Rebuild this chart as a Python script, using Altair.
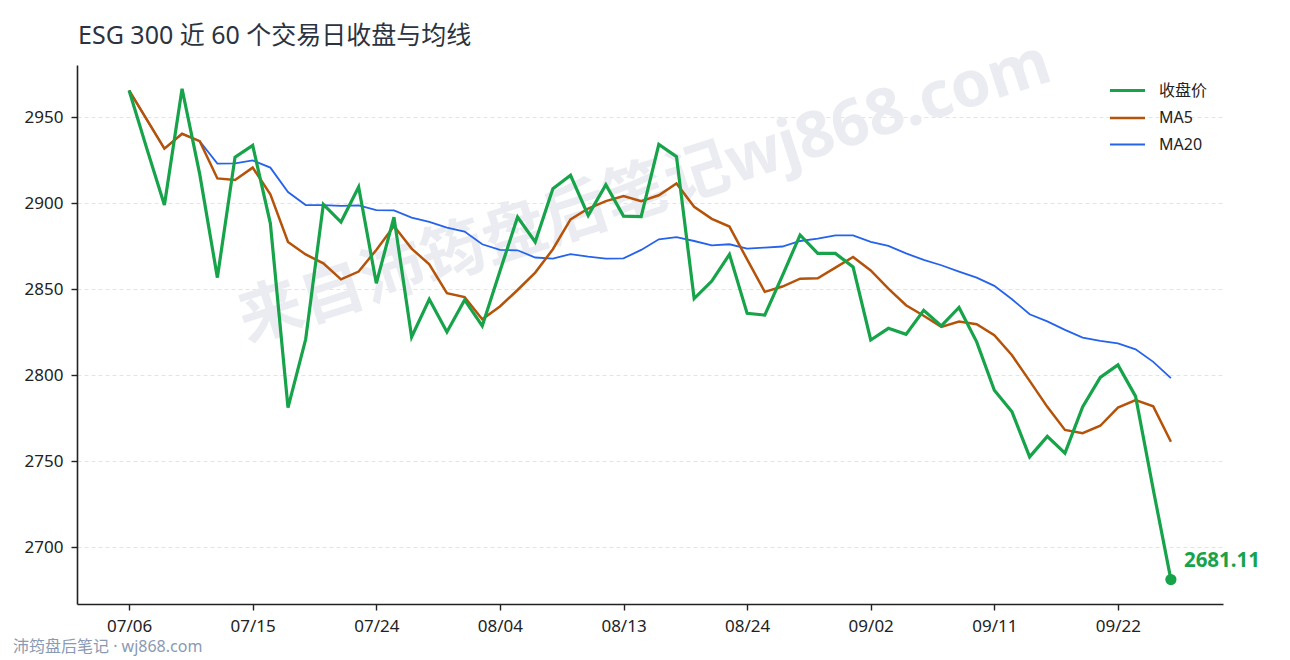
import pandas as pd
import altair as alt

# 收盘价与均线
close = [2965.7, 2932.0, 2899.0, 2966.7, 2917.0, 2856.8, 2926.9, 2933.7, 2888.4, 2781.2,
         2820.9, 2899.4, 2889.1, 2909.5, 2853.5, 2892.0, 2822.3, 2844.2, 2825.2, 2843.8,
         2828.7, 2860.5, 2892.0, 2877.5, 2908.5, 2916.3, 2893.0, 2910.9, 2892.6, 2892.3,
         2934.3, 2927.2, 2844.6, 2854.8, 2870.3, 2836.0, 2835.0, 2858.0, 2881.6, 2870.9,
         2870.9, 2863.0, 2820.5, 2827.3, 2823.8, 2837.8, 2828.7, 2839.4, 2819.4, 2791.3,
         2778.7, 2752.5, 2764.4, 2754.7, 2781.6, 2798.7, 2806.0, 2787.7, 2733.5, 2681.11]

ma5 = [2965.7, 2948.8, 2931.8, 2940.5, 2936.2, 2914.5, 2913.6, 2920.8, 2905.2, 2877.5,
       2870.3, 2865.1, 2855.8, 2860.3, 2872.9, 2886.8, 2873.7, 2864.5, 2847.7, 2845.5,
       2832.6, 2840.0, 2849.6, 2859.7, 2873.3, 2890.7, 2897.0, 2901.3, 2904.3, 2901.3,
       2904.7, 2911.6, 2898.0, 2891.0, 2886.5, 2867.4, 2848.5, 2851.6, 2856.2, 2856.4,
       2862.6, 2868.8, 2861.0, 2850.4, 2840.7, 2834.6, 2828.1, 2831.3, 2829.7, 2823.3,
       2811.6, 2796.7, 2781.6, 2768.2, 2766.3, 2770.6, 2781.2, 2785.5, 2781.9, 2761.3]

ma20 = [2965.7, 2948.8, 2931.8, 2940.5, 2936.2, 2923.1, 2923.3, 2925.0, 2920.8, 2906.6,
        2899.0, 2899.0, 2898.5, 2898.8, 2896.1, 2895.9, 2891.7, 2889.2, 2885.9, 2883.6,
        2876.2, 2872.9, 2872.7, 2868.5, 2867.9, 2870.5, 2869.0, 2867.9, 2868.0, 2872.9,
        2879.1, 2880.4, 2878.1, 2875.6, 2876.2, 2873.7, 2874.3, 2874.9, 2878.1, 2879.5,
        2881.4, 2881.4, 2877.6, 2875.2, 2870.9, 2867.1, 2864.0, 2860.3, 2856.8, 2852.0,
        2844.2, 2835.5, 2831.3, 2826.4, 2821.9, 2820.0, 2818.5, 2815.1, 2807.8, 2798.3]

# x 轴刻度：每 7 个交易日一个
tick_pos = [0, 7, 14, 21, 28, 35, 42, 49, 56]
tick_labels = ['07/06', '07/15', '07/24', '08/04', '08/13', '08/24', '09/02', '09/11', '09/22']

series_names = ['收盘价', 'MA5', 'MA20']
series_colors = ['#16a34a', '#b45309', '#2563eb']
series_widths = [3.2, 1.8, 1.8]

FONT = "'Noto Sans', 'Noto Sans CJK SC'"

n = len(close)
df = pd.concat([
    pd.DataFrame({'day': range(n), 'value': close, 'series': '收盘价'}),
    pd.DataFrame({'day': range(n), 'value': ma5, 'series': 'MA5'}),
    pd.DataFrame({'day': range(n), 'value': ma20, 'series': 'MA20'}),
], ignore_index=True)

last = pd.DataFrame({'day': [n - 1], 'value': [close[-1]]})

label_arr = '[' + ','.join(f"'{s}'" for s in tick_labels) + ']'

x_enc = alt.X('day:Q', scale=alt.Scale(domain=[-2.95, 61.95], nice=False, zero=False),
              axis=alt.Axis(values=tick_pos, labelExpr=f"{label_arr}[round(datum.value / 7)]",
                            title=None, grid=False, labelPadding=8))
y_enc = alt.Y('value:Q', scale=alt.Scale(domain=[2666.9, 2980.5], nice=False, zero=False),
              axis=alt.Axis(values=[2700, 2750, 2800, 2850, 2900, 2950], format='d', title=None,
                            grid=True, gridDash=[4, 3], gridColor='#dddddd', gridWidth=0.8,
                            labelPadding=8))

legend_args = dict(title=None, orient='none', legendX=1031, legendY=6,
                   symbolType='stroke', symbolSize=1225,
                   labelFontSize=16, labelOffset=12, rowPadding=0,
                   labelColor='#222222', labelFont=FONT)
color_enc = alt.Color('series:N', scale=alt.Scale(domain=series_names, range=series_colors),
                      legend=alt.Legend(**legend_args))
width_enc = alt.StrokeWidth('series:N', scale=alt.Scale(domain=series_names, range=series_widths),
                            legend=alt.Legend(**legend_args))


def line_layer(name):
    return alt.Chart(df).transform_filter(alt.datum.series == name).mark_line().encode(
        x=x_enc, y=y_enc, color=color_enc, strokeWidth=width_enc
    )


watermark = alt.Chart(pd.DataFrame({'t': ['来自沛筠盘后笔记wj868.com']})).mark_text(
    font=FONT, fontSize=64, fontWeight='bold', color='#eaecf1', angle=342,
    align='center', baseline='middle'
).encode(x=alt.value(568), y=alt.value(128), text='t:N')

title = alt.Chart(pd.DataFrame({'t': ['ESG 300 近 60 个交易日收盘与均线']})).mark_text(
    font=FONT, fontSize=25, color='#2b3341', align='left', baseline='middle'
).encode(x=alt.value(1), y=alt.value(-29), text='t:N')

footer = alt.Chart(pd.DataFrame({'t': ['沛筠盘后笔记 · wj868.com']})).mark_text(
    font=FONT, fontSize=16, color='#8a9ab3', align='left', baseline='middle'
).encode(x=alt.value(-64), y=alt.value(582), text='t:N')

dot = alt.Chart(last).mark_circle(size=125, color='#16a34a', opacity=1).encode(x=x_enc, y=y_enc)
dot_label = alt.Chart(last).mark_text(
    font=FONT, fontSize=20.5, fontWeight='bold', color='#16a34a', align='left',
    baseline='middle', dx=13, dy=-19
).encode(x=x_enc, y=y_enc, text=alt.Text('value:Q', format='.2f'))

chart = alt.layer(
    watermark, title, footer, line_layer('MA20'), line_layer('MA5'), line_layer('收盘价'),
    dot, dot_label
).properties(
    width=1146, height=539,
    autosize=alt.AutoSizeParams(type='none'),
    padding={'left': 69, 'top': 57, 'right': 59, 'bottom': 56}
).configure_view(
    stroke=None
).configure_axis(
    labelFont=FONT, labelFontSize=17, labelColor='#222222',
    domainColor='#222222', domainWidth=1.6, tickColor='#222222', tickWidth=1.4, tickSize=6
)

chart.save('out.html', embed_options={'renderer': 'svg', 'actions': False})
